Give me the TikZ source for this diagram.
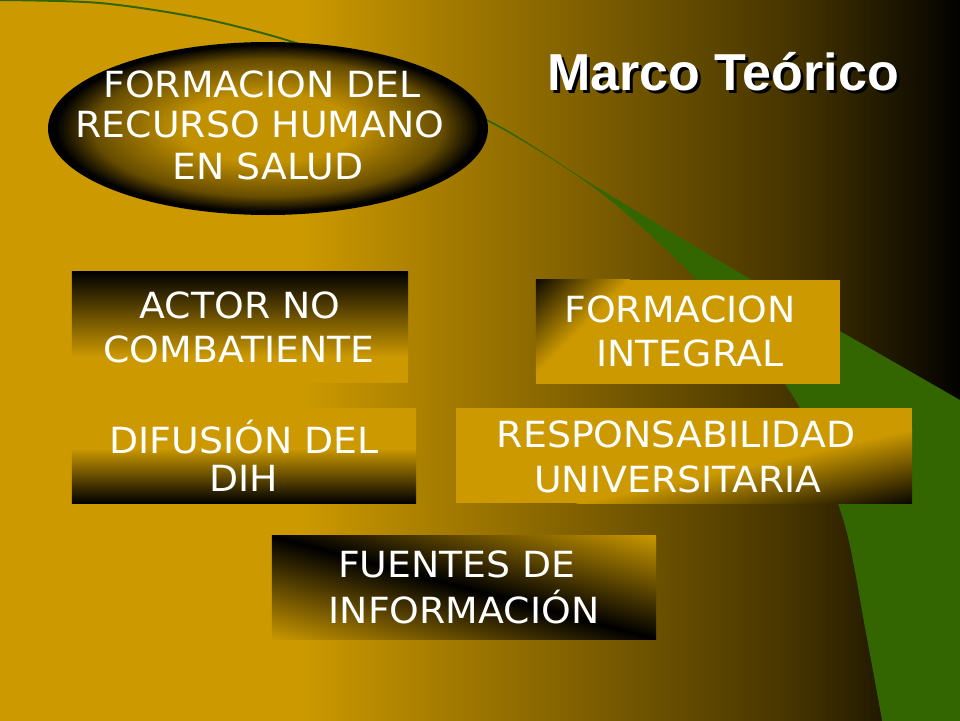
\documentclass[tikz,border=0pt]{standalone}
\usepackage{fontspec}
\setmainfont{DejaVu Sans}
\newfontfamily\boxfont[FakeStretch=1.05]{DejaVu Sans}
\newfontfamily\titlefont{Liberation Sans}
\usetikzlibrary{shapes.geometric}
\definecolor{gold}{RGB}{204,153,0}
\definecolor{leafgreen}{RGB}{51,102,0}
\begin{document}
\begin{tikzpicture}[x=1pt, y=-1pt,
  boxtxt/.style={font=\boxfont\fontsize{36}{44}\selectfont, text=white, anchor=base, inner sep=0pt},
  titletxt/.style={font=\titlefont\bfseries\fontsize{52}{60}\selectfont, anchor=base, inner sep=0pt},
  boxnode/.style={rectangle, fill=gold, inner sep=0pt},
  ringnode/.style={ellipse, inner sep=0pt, outer sep=0pt, draw=none}]
\useasboundingbox (0,0) rectangle (960,720);
% background
\fill[gold] (-5,-5) rectangle (301,725);
\shade[left color=gold, right color=gold!60!black] (300,-5) rectangle (601,725);
\shade[left color=gold!60!black, right color=gold!33!black] (600,-5) rectangle (801,725);
\shade[left color=gold!33!black, right color=black] (800,-5) rectangle (965,725);
% green swoosh
\fill[leafgreen] plot[smooth] coordinates {(0,-1) (100,2) (200,17) (293,41) (400,80) (500,126) (600,189) (750,279) (960,400)}
  -- (965,400) -- (965,725) -- (883,725) -- (882,720)
  -- plot[smooth] coordinates {(882,720) (866,633) (847,533) (820,455) (787,387) (697,280) (601,193) (500,128) (400,82) (293,43) (200,19) (100,4) (0,1)} -- cycle;
% ellipse: radial gradient built from concentric ellipse nodes
\node[ringnode, fill=black, minimum width=440pt, minimum height=173pt] (ell) at (268,128.5) {};
\foreach \i in {1,...,69} {
  \pgfmathsetmacro{\rr}{1-\i/70}
  \pgfmathsetmacro{\rw}{440*\rr}
  \pgfmathsetmacro{\rh}{173*\rr}
  \pgfmathsetmacro{\g}{\rr>0.97 ? 0 : (\rr>0.8 ? 50*(0.97-\rr)/0.17 : (\rr>0.4 ? 50+45*(0.8-\rr)/0.4 : 95))}
  \node[ringnode, fill=gold!\g!black, minimum width=\rw pt, minimum height=\rh pt] (ring\i) at (ell.center) {};
}
% boxes
\node[boxnode, minimum width=336pt, minimum height=111pt] (b1) at (240,327.5) {};
\node[boxnode, minimum width=304pt, minimum height=104pt] (b2) at (688,332) {};
\node[boxnode, minimum width=344pt, minimum height=95pt] (b3) at (244,455.5) {};
\node[boxnode, minimum width=456pt, minimum height=95pt] (b4) at (684,455.5) {};
\node[boxnode, minimum width=384pt, minimum height=103pt] (b5) at (464,587.5) {};
% box shadings
\shade[top color=black, bottom color=gold] (b1.north west) rectangle ([yshift=-85pt]b1.north east);
\shade[top color=gold, bottom color=black] ([yshift=55pt]b3.south west) rectangle (b3.south east);
\begin{scope}
  \clip (b2.south west) rectangle (b2.north east);
  \begin{scope}[transform canvas={shift={(536,280)}, rotate=-45}]
    \shade[left color=black, right color=gold] (-5,-300) rectangle (66,300);
  \end{scope}
\end{scope}
\begin{scope}
  \clip (b4.south west) rectangle (b4.north east);
  \begin{scope}[transform canvas={shift={(912,503)}, rotate=-77.5}]
    \shade[left color=gold, right color=black] (-72,-700) rectangle (3,700);
  \end{scope}
\end{scope}
\begin{scope}
  \clip (b5.south west) rectangle (b5.north east);
  \begin{scope}[transform canvas={shift={(464,587.5)}, rotate=-15}]
    \shade[top color=gold, bottom color=gold, middle color=black] (-260,-101) rectangle (260,101);
  \end{scope}
\end{scope}
% title
\node[titletxt, text=black] (titleshadow) at (726,93) {Marco Teórico};
\node[titletxt, text=white] (title) at (723,90) {Marco Teórico};
% ellipse text
\node[boxtxt] (e1) at (262,97) {FORMACION DEL};
\node[boxtxt] (e2) at (260,137) {RECURSO HUMANO};
\node[boxtxt] (e3) at (268,179) {EN SALUD};
% box texts
\node[boxtxt] (t1a) at (240,318) {ACTOR NO};
\node[boxtxt] (t1b) at (239,362) {COMBATIENTE};
\node[boxtxt] (t2a) at (680,322) {FORMACION};
\node[boxtxt] (t2b) at (690,366) {INTEGRAL};
\node[boxtxt] (t3a) at (244,453) {DIFUSIÓN DEL};
\node[boxtxt] (t3b) at (244,491) {DIH};
\node[boxtxt] (t4a) at (676,447) {RESPONSABILIDAD};
\node[boxtxt] (t4b) at (678,492) {UNIVERSITARIA};
\node[boxtxt] (t5a) at (457,577) {FUENTES DE};
\node[boxtxt] (t5b) at (464,623) {INFORMACIÓN};
\end{tikzpicture}
\end{document}
